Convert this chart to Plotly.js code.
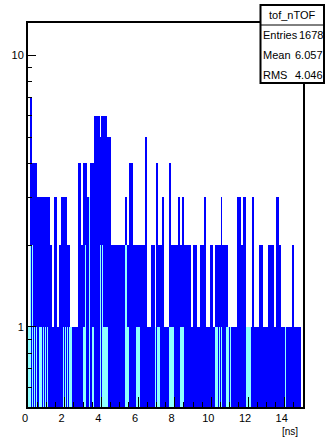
<!DOCTYPE html>
<html><head><meta charset="utf-8">
<script src="https://cdn.plot.ly/plotly-3.0.1.min.js"></script>
<style>html,body{margin:0;padding:0;background:#fff}#chart{width:325px;height:439px}</style>
</head><body><div id="chart"></div>
<script>
// ---- data ----
const histName = 'tof_nTOF';
const xMin = 0, xMax = 15, binWidth = 0.1;
// envelope counts per 0.1 ns bin
const counts = [
 1,7,4,4,4,3,3,3,3,3, 3,3,2,1,3,3,1,2,3,3,
 3,2,2,1,1,1,1,4,4,2, 4,4,3,3,4,4,6,6,6,5,
 6,6,6,5,5,2,2,2,2,2, 2,2,2,3,2,4,4,2,2,2,
 2,2,2,2,5,1,1,2,2,1, 4,2,2,3,1,1,1,4,2,2,
 2,2,3,2,3,2,2,2,2,1, 2,2,1,1,2,2,3,1,1,2,
 2,1,2,2,2,3,2,2,2,1, 1,1,1,1,3,3,2,3,3,1,
 1,1,3,1,1,1,2,2,1,1, 1,2,2,2,1,3,3,2,1,1,
 1,1,1,1,2,1,1,1,1,0
];
// height of the visible cyan (hatched) fill per bin, 0 = none
const fillTop = [
 1,2,2,1,1,0,1,1,1,1, 1,0,0,0,0,0,0,0,0,1,
 1,1,1,1,0,0,0,0,0,0, 1,2,0,3,0,1,0,0,0,2,
 2,1,1,1,0,0,0,0,0,0, 0,0,0,2,1,0,0,0,0,1,
 1,0,0,0,0,0,0,0,0,1, 1,1,0,0,0,0,0,1,1,1,
 0,0,0,1,1,0,0,0,0,0, 0,0,0,0,0,0,0,0,0,0,
 0,0,1,1,1,1,0,0,1,1, 1,0,0,0,0,0,0,0,0,1,
 1,1,0,0,0,0,0,0,0,0, 0,0,0,0,0,0,0,0,0,0,
 1,0,0,0,0,0,0,0,0,0
];
const xTickVals = [0,2,4,6,8,10,12,14];
const yTickVals = [1,10];
const yMinorVals = [0.6,0.7,0.8,0.9,2,3,4,5,6,7,8,9];
const statLabels = ['Entries','Mean','RMS'];
const statValues = ['1678','6.057','4.046'];
const xUnit = '[ns]';
const yLow = 0.507, yHigh = 13.15;

// ---- geometry helpers (layout only) ----
const W = 325, H = 439;
const M = {l:28, r:22, t:23, b:32};
const pw = W - M.l - M.r, ph = H - M.t - M.b;
const px = v => (v - M.l) / pw;
const py = v => (H - M.b - v) / ph;

const centers = counts.map((_, i) => xMin + (i + 0.5) * binWidth);

const font = {family:'"Liberation Sans", Arial, Helvetica, sans-serif', size:11, color:'#000'};

const traces = [
  {type:'bar', x:centers, y:counts.map(v => v > 0 ? v : null), width:binWidth,
   marker:{color:'#0000ff', line:{width:0}}, hoverinfo:'skip'},
  {type:'bar', x:centers, y:fillTop.map(v => v > 0 ? v : null), width:binWidth*0.75,
   marker:{color:'#00ffff', line:{width:0},
     pattern:{shape:'.', fgcolor:'#00ffff', bgcolor:'#ffffff', size:2, solidity:0.5, fillmode:'replace'}},
   hoverinfo:'skip'}
];

const annotations = [
  {text:histName, x:px(292), y:py(15), xanchor:'center', yanchor:'middle'},
  {text:xUnit, x:px(299), y:py(438), xanchor:'right', yanchor:'bottom', font:Object.assign({}, font, {size:10})}
];
const rowsY = [35,55,75];
statLabels.forEach((lab, i) => {
  annotations.push({text:lab, x:px(262), y:py(rowsY[i]), xanchor:'left', yanchor:'middle'});
  annotations.push({text:statValues[i], x:px(324), y:py(rowsY[i]), xanchor:'right', yanchor:'middle'});
});
annotations.forEach(a => { a.xref='paper'; a.yref='paper'; a.showarrow=false; if(!a.font) a.font=font; a.borderpad=0; });

const layout = {
  width:W, height:H, margin:M, paper_bgcolor:'#fff', plot_bgcolor:'#fff',
  showlegend:false, barmode:'overlay', bargap:0, hovermode:false, font:font,
  xaxis:{range:[xMin, xMax], tickvals:xTickVals, ticks:'inside', ticklen:10, tickwidth:1, tickcolor:'#000',
    showline:true, linewidth:2, linecolor:'#000', mirror:true, showgrid:false, zeroline:false,
    ticklabelshift:-3, tickfont:font,
    minor:{dtick:0.5, tick0:0, ticks:'inside', ticklen:5, tickwidth:1, tickcolor:'#000', showgrid:false}},
  yaxis:{type:'log', range:[Math.log10(yLow), Math.log10(yHigh)], tickvals:yTickVals, ticktext:yTickVals.map(String),
    ticks:'inside', ticklen:8, tickwidth:1, tickcolor:'#000',
    showline:true, linewidth:2, linecolor:'#000', mirror:true, showgrid:false, zeroline:false, tickfont:font,
    minor:{tickmode:'array', tickvals:yMinorVals, ticks:'inside', ticklen:4, tickwidth:1, tickcolor:'#000', showgrid:false}},
  shapes:[
    {type:'rect', xref:'paper', yref:'paper', x0:px(260.5), x1:px(324), y0:py(83), y1:py(5),
     line:{color:'#000', width:2}, fillcolor:'#fff', layer:'above'},
    {type:'line', xref:'paper', yref:'paper', x0:px(260.5), x1:px(324), y0:py(25), y1:py(25),
     line:{color:'#000', width:1}, layer:'above'}
  ],
  annotations:annotations
};

Plotly.newPlot('chart', traces, layout, {staticPlot:true, displayModeBar:false});
</script>
</body></html>
